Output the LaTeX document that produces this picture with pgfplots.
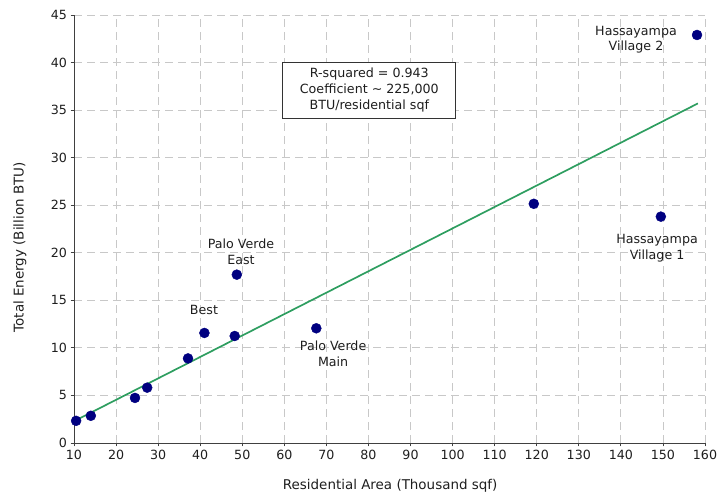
\documentclass[border=0pt]{standalone}
\usepackage{fontspec}
\setmainfont{DejaVu Sans}
\usepackage{pgfplots}
\pgfplotsset{compat=1.18}
\definecolor{navy}{RGB}{0,0,128}
\definecolor{fitgreen}{RGB}{46,158,96}
\definecolor{gridgray}{RGB}{200,200,200}
\definecolor{txt}{RGB}{30,30,30}
\newcommand{\lf}{\fontsize{12.7}{16}\selectfont}
\newcommand{\af}{\fontsize{13.5}{16}\selectfont}
\begin{document}
\begin{tikzpicture}[x=1bp,y=1bp]
\useasboundingbox (0,0) rectangle (719,502);
\begin{axis}[
  at={(74bp,59bp)}, anchor=south west,
  scale only axis, width=631bp, height=428bp,
  xmin=10, xmax=160, ymin=0, ymax=45,
  xtick={10,20,...,160}, ytick={0,5,...,45},
  axis lines=left, axis line style={-, color=black!75, line width=0.8pt},
  tick align=outside, major tick length=3.5bp,
  tick style={color=black!75, line width=0.8pt},
  grid=major, major grid style={dashed, color=gridgray, line width=0.8pt, dash pattern=on 8bp off 5bp},
  /pgf/number format/assume math mode=true,
  tick label style={font=\lf, color=txt},
  xlabel={\af Residential Area (Thousand sqf)},
  ylabel={\af Total Energy (Billion BTU)},
  xlabel style={at={(axis description cs:0.501,0)}, anchor=center, yshift=-43bp, text=txt},
  ylabel style={at={(axis description cs:0,0.457)}, anchor=center, yshift=54bp, text=txt},
  clip=false,
]
\addplot[fitgreen, line width=1.7pt] coordinates {(10.5,2.4) (158.3,35.7)};
\addplot[only marks, mark=*, mark size=5bp, mark options={fill=navy, draw=navy}] coordinates {
(10.5,2.33) (14.0,2.86) (24.5,4.74) (27.4,5.82) (37.1,8.89) (41.0,11.57)
(48.2,11.25) (48.7,17.7) (67.6,12.06) (119.3,25.15) (149.5,23.8) (158.1,42.9)};
\node[font=\lf, text=txt] at (axis cs:40.9,14.0) {Best};
\node[font=\lf, text=txt, align=center] at (axis cs:49.7,20.1) {Palo Verde\\East};
\node[font=\lf, text=txt, align=center] at (axis cs:71.6,9.4) {Palo Verde\\Main};
\node[font=\lf, text=txt, align=center] at (axis cs:143.6,42.4) {Hassayampa\\Village 2};
\node[font=\lf, text=txt, align=center] at (axis cs:148.6,20.5) {Hassayampa\\Village 1};
\node[font=\lf, text=txt, draw=black!80, fill=white, align=center, minimum width=173bp, minimum height=56bp, inner sep=2bp, line width=0.8pt] at (axis cs:80.2,37.1) {R-squared = 0.943\\Coefficient \char`~{} 225,000\\BTU/residential sqf};
\end{axis}
\end{tikzpicture}
\end{document}
